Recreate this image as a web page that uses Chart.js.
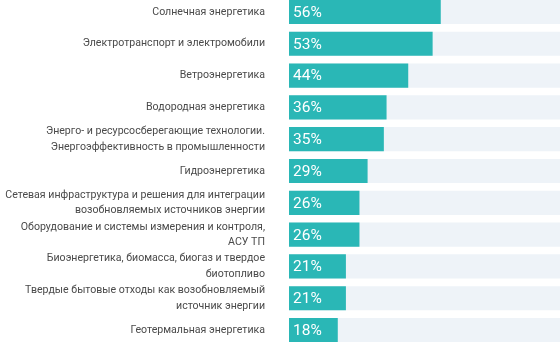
<!DOCTYPE html>
<html>
<head>
<meta charset="utf-8">
<script src="https://cdn.jsdelivr.net/npm/chart.js@4.4.0/dist/chart.umd.min.js"></script>
<style>
  html, body { margin: 0; padding: 0; background: #fff; overflow: hidden; }
  #wrap { width: 560px; height: 350px; position: absolute; left: 0; top: -4px; }
</style>
</head>
<body>
<div id="wrap"><canvas id="barChart"></canvas></div>
<script>
// данные опроса
var categories = [
  'Солнечная энергетика',
  'Электротранспорт и электромобили',
  'Ветроэнергетика',
  'Водородная энергетика',
  ['Энерго- и ресурсосберегающие технологии.', 'Энергоэффективность в промышленности'],
  'Гидроэнергетика',
  ['Сетевая инфраструктура и решения для интеграции', 'возобновляемых источников энергии'],
  ['Оборудование и системы измерения и контроля,', 'АСУ ТП'],
  ['Биоэнергетика, биомасса, биогаз и твердое', 'биотопливо'],
  ['Твердые бытовые отходы как возобновляемый', 'источник энергии'],
  'Геотермальная энергетика'
];
var values = [56, 53, 44, 36, 35, 29, 26, 26, 21, 21, 18];
var trackValues = [100, 100, 100, 100, 100, 100, 100, 100, 100, 100, 100];

// подписи процентов внутри столбцов
var percentLabels = {
  id: 'percentLabels',
  afterDatasetsDraw: function(chart) {
    var ctx = chart.ctx;
    var meta = chart.getDatasetMeta(0);
    ctx.save();
    ctx.fillStyle = '#ffffff';
    ctx.font = '15.5px Roboto';
    ctx.textAlign = 'left';
    ctx.textBaseline = 'middle';
    meta.data.forEach(function(bar, i) {
      ctx.fillText(values[i] + '%', bar.base + 4, bar.y + 1);
    });
    ctx.restore();
  }
};

var ctx = document.getElementById('barChart').getContext('2d');
var chart = new Chart(ctx, {
  type: 'bar',
  data: {
    labels: categories,
    datasets: [{
      data: values,
      backgroundColor: '#2ab7b6',
      grouped: false,
      order: 0,
      barPercentage: 0.76,
      categoryPercentage: 1
    }, {
      data: trackValues,
      backgroundColor: '#eef3f8',
      grouped: false,
      order: 1,
      barPercentage: 0.76,
      categoryPercentage: 1
    }]
  },
  options: {
    indexAxis: 'y',
    responsive: true,
    maintainAspectRatio: false,
    animation: false,
    events: [],
    layout: { padding: 0 },
    plugins: {
      legend: { display: false },
      tooltip: { enabled: false }
    },
    scales: {
      x: { display: false, min: 0, max: 100 },
      y: {
        grid: { display: false, drawTicks: false },
        border: { display: false },
        ticks: {
          autoSkip: false,
          padding: 24,
          color: '#4a4a4a',
          font: { family: 'Roboto', size: 10.6, lineHeight: 1.45 }
        },
        afterFit: function(scale) {
          scale.width = 289;
          scale.paddingTop = 0;
          scale.paddingBottom = 0;
        }
      }
    }
  },
  plugins: [percentLabels]
});
</script>
</body>
</html>
